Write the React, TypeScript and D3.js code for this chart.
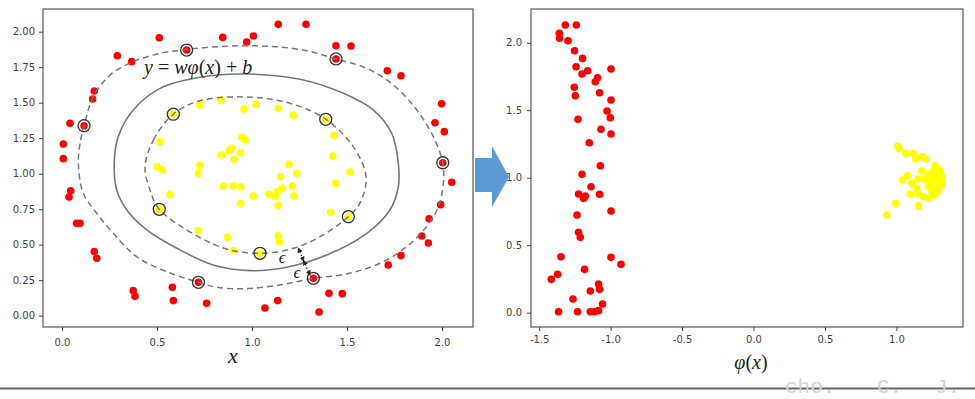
import React, { useEffect, useRef } from "react";
import * as d3 from "d3";

type Pt = [number, number];

// left panel: input space x
const redLeft: Pt[] = [
  [1.138, 2.052], [1.284, 2.052], [0.512, 1.958], [0.846, 1.96], [1.007, 1.97],
  [0.972, 1.927], [0.656, 1.871], [0.291, 1.831], [0.367, 1.789], [1.442, 1.901],
  [1.521, 1.899], [1.442, 1.808], [1.712, 1.725], [1.784, 1.69], [0.17, 1.582],
  [0.161, 1.526], [0.116, 1.338], [0.042, 1.355], [0.007, 1.209], [0.007, 1.106],
  [1.998, 1.493], [1.963, 1.359], [2.012, 1.296], [2.004, 1.077], [2.051, 0.94],
  [0.046, 0.88], [0.037, 0.836], [0.077, 0.651], [0.095, 0.651], [0.17, 0.451],
  [0.183, 0.404], [0.375, 0.176], [0.384, 0.137], [0.581, 0.2], [0.586, 0.106],
  [0.718, 0.235], [0.761, 0.087], [1.068, 0.054], [1.135, 0.106], [1.323, 0.263],
  [1.353, 0.026], [1.405, 0.158], [1.475, 0.155], [1.717, 0.357], [1.784, 0.423],
  [1.893, 0.561], [1.928, 0.512], [1.932, 0.683], [1.993, 0.782],
];

const yellowLeft: Pt[] = [
  [0.726, 1.484], [0.837, 1.519], [0.958, 1.456], [1.021, 1.489], [1.138, 1.461],
  [1.218, 1.411], [0.586, 1.419], [1.388, 1.383], [1.432, 1.27], [1.425, 1.125],
  [1.516, 1.012], [1.442, 0.93], [1.414, 0.728], [1.507, 0.697], [0.516, 1.225],
  [0.502, 1.049], [0.528, 1.026], [0.568, 0.855], [0.512, 0.749], [0.726, 1.059],
  [0.718, 1.003], [0.946, 1.256], [0.967, 1.237], [0.893, 1.179], [0.879, 1.162],
  [0.84, 1.132], [0.94, 1.148], [0.907, 1.101], [0.849, 0.913], [0.902, 0.913],
  [0.942, 0.908], [0.94, 0.791], [1.007, 0.843], [1.089, 0.857], [1.121, 0.838],
  [1.133, 0.873], [1.159, 0.897], [1.138, 0.777], [1.151, 0.979], [1.195, 1.066],
  [1.235, 1.003], [1.212, 0.913], [1.221, 0.843], [0.718, 0.599], [0.87, 0.552],
  [0.902, 0.458], [1.042, 0.439], [1.138, 0.563], [1.144, 0.521],
];

const supportVectors: Pt[] = [
  [0.656, 1.871], [1.442, 1.808], [0.116, 1.338], [2.004, 1.077], [0.718, 0.235],
  [1.323, 0.263], [0.586, 1.419], [1.388, 1.383], [0.512, 0.749], [1.507, 0.697],
  [1.042, 0.439],
];

// contour lines
const marginOuter: Pt[] = [
  [0.086, 1.073], [0.098, 1.237], [0.116, 1.338], [0.165, 1.542], [0.253, 1.695],
  [0.375, 1.789], [0.516, 1.848], [0.656, 1.875], [0.814, 1.894], [0.972, 1.901],
  [1.13, 1.894], [1.288, 1.866], [1.442, 1.808], [1.604, 1.742], [1.744, 1.625],
  [1.867, 1.449], [1.954, 1.261], [2.004, 1.077], [2.007, 0.932], [1.981, 0.768],
  [1.919, 0.627], [1.814, 0.486], [1.674, 0.369], [1.498, 0.294], [1.323, 0.263],
  [1.147, 0.216], [0.963, 0.19], [0.814, 0.2], [0.718, 0.235], [0.551, 0.31],
  [0.393, 0.415], [0.27, 0.58], [0.183, 0.721], [0.112, 0.862],
];

const boundary: Pt[] = [
  [0.972, 1.702], [1.253, 1.665], [1.481, 1.566], [1.638, 1.449], [1.735, 1.285],
  [1.77, 1.073], [1.77, 0.908], [1.726, 0.744], [1.604, 0.58], [1.393, 0.427],
  [1.183, 0.341], [0.989, 0.317], [0.796, 0.357], [0.604, 0.475], [0.446, 0.604],
  [0.341, 0.744], [0.288, 0.885], [0.275, 1.073], [0.296, 1.261], [0.375, 1.449],
  [0.516, 1.601], [0.726, 1.679],
];

const marginInner: Pt[] = [
  [0.437, 1.049], [0.481, 1.237], [0.586, 1.419], [0.726, 1.514], [0.972, 1.54],
  [1.2, 1.496], [1.389, 1.383], [1.533, 1.19], [1.6, 0.979], [1.568, 0.792],
  [1.507, 0.697], [1.358, 0.556], [1.218, 0.475], [1.042, 0.439], [0.884, 0.463],
  [0.718, 0.556], [0.512, 0.749], [0.463, 0.885],
];

// epsilon marker: inner margin -> boundary -> outer margin
const epsLine: Pt[] = [[1.244, 0.475], [1.272, 0.385], [1.305, 0.287]];

// right panel: feature space phi(x)
const redRight: Pt[] = [
  [-1.317, 2.131], [-1.24, 2.131], [-1.359, 2.07], [-1.357, 2.033], [-1.298, 2.015],
  [-1.252, 1.941], [-1.196, 1.884], [-1.242, 1.822], [-1.161, 1.793], [-1.2, 1.768],
  [-0.997, 1.805], [-1.091, 1.741], [-1.107, 1.711], [-1.254, 1.67], [-1.247, 1.607],
  [-1.077, 1.63], [-0.997, 1.576], [-1.025, 1.494], [-1.002, 1.444], [-1.228, 1.433],
  [-1.067, 1.359], [-0.997, 1.324], [-1.149, 1.259], [-1.072, 1.089], [-1.2, 1.025],
  [-1.137, 0.933], [-1.224, 0.879], [-1.177, 0.864], [-1.189, 0.847], [-1.077, 0.877],
  [-0.997, 0.753], [-1.235, 0.724], [-1.224, 0.596], [-1.212, 0.559], [-1.347, 0.415],
  [-0.997, 0.41], [-0.927, 0.358], [-1.182, 0.321], [-1.371, 0.284], [-1.415, 0.247],
  [-1.084, 0.213], [-1.077, 0.173], [-1.142, 0.161], [-1.263, 0.101], [-1.056, 0.064],
  [-1.364, 0.007], [-1.231, 0.007], [-1.142, 0.007], [-1.112, 0.007], [-1.084, 0.015],
];

const yellowRight: Pt[] = [
  [1.01, 1.235], [1.019, 1.218], [1.066, 1.181], [1.119, 1.181], [1.136, 1.139],
  [1.182, 1.156], [1.206, 1.139], [1.271, 1.089], [1.178, 1.05], [1.224, 1.025],
  [1.306, 1.044], [1.317, 1.007], [1.077, 1.015], [1.042, 0.983], [1.154, 0.99],
  [1.236, 0.97], [1.283, 0.97], [1.317, 0.959], [1.108, 0.959], [1.143, 0.921],
  [1.224, 0.933], [1.271, 0.921], [1.317, 0.946], [1.096, 0.879], [1.189, 0.859],
  [1.259, 0.872], [1.224, 0.847], [0.996, 0.81], [1.154, 0.793], [0.933, 0.724],
  [1.25, 1.0], [1.29, 1.01], [1.26, 1.05], [1.3, 0.99], [1.2, 0.99],
  [1.25, 0.9], [1.29, 0.9], [1.15, 0.88], [1.3, 1.06],
];

const leftXTicks = [0, 0.5, 1, 1.5, 2];
const leftYTicks = [0, 0.25, 0.5, 0.75, 1, 1.25, 1.5, 1.75, 2];
const rightXTicks = [-1.5, -1, -0.5, 0, 0.5, 1];
const rightYTicks = [0, 0.5, 1, 1.5, 2];

const W = 975;
const H = 399;
const LEFT = { x0: 43, x1: 473, y0: 9, y1: 327 };
const RIGHT = { x0: 531, x1: 963, y0: 9, y1: 327 };
const DOT_R = 3.8;
const TICK_FONT = "DejaVu Sans, sans-serif";
const MATH_FONT = "'Liberation Serif', 'DejaVu Serif', serif";

export default function App() {
  const gLX = useRef<SVGGElement>(null);
  const gLY = useRef<SVGGElement>(null);
  const gRX = useRef<SVGGElement>(null);
  const gRY = useRef<SVGGElement>(null);

  const xL = d3.scaleLinear().domain([-0.1, 2.163]).range([LEFT.x0, LEFT.x1]);
  const yL = d3.scaleLinear().domain([-0.08, 2.16]).range([LEFT.y1, LEFT.y0]);
  const xR = d3.scaleLinear().domain([-1.557, 1.466]).range([RIGHT.x0, RIGHT.x1]);
  const yR = d3.scaleLinear().domain([-0.106, 2.25]).range([RIGHT.y1, RIGHT.y0]);

  const contour = d3
    .line<Pt>()
    .x((d) => xL(d[0]))
    .y((d) => yL(d[1]))
    .curve(d3.curveCatmullRomClosed.alpha(0.5));

  useEffect(() => {
    const style = (g: d3.Selection<SVGGElement, unknown, null, undefined>) => {
      g.select(".domain").remove();
      g.selectAll(".tick line").attr("stroke", "#444");
      g.selectAll(".tick text")
        .attr("fill", "#444")
        .attr("font-family", TICK_FONT)
        .attr("font-size", 10);
    };
    d3.select(gLX.current!)
      .attr("transform", `translate(0,${LEFT.y1})`)
      .call(d3.axisBottom(xL).tickValues(leftXTicks).tickSize(4).tickPadding(7.5).tickFormat((d) => (+d).toFixed(1)))
      .call(style);
    d3.select(gLY.current!)
      .attr("transform", `translate(${LEFT.x0},0)`)
      .call(d3.axisLeft(yL).tickValues(leftYTicks).tickSize(4).tickPadding(4).tickFormat((d) => (+d).toFixed(2)))
      .call(style);
    d3.select(gRX.current!)
      .attr("transform", `translate(0,${RIGHT.y1})`)
      .call(d3.axisBottom(xR).tickValues(rightXTicks).tickSize(4).tickPadding(4.5).tickFormat((d) => (+d).toFixed(1)))
      .call(style);
    d3.select(gRY.current!)
      .attr("transform", `translate(${RIGHT.x0},0)`)
      .call(d3.axisLeft(yR).tickValues(rightYTicks).tickSize(4).tickPadding(5).tickFormat((d) => (+d).toFixed(1)))
      .call(style);
  }, []);

  const eqX = xL(0.432);
  const eqY = yL(1.7);

  return (
    <div style={{ position: "absolute", left: 0, top: 0 }}>
      <svg width={W} height={H} style={{ display: "block", background: "#fff" }}>
        <defs>
          <marker id="epsHead" viewBox="0 0 6 6" refX="5" refY="3" markerWidth="4" markerHeight="4" orient="auto-start-reverse">
            <path d="M0,0 L6,3 L0,6 Z" fill="#222" />
          </marker>
        </defs>

        {/* left panel */}
        <rect x={LEFT.x0} y={LEFT.y0} width={LEFT.x1 - LEFT.x0} height={LEFT.y1 - LEFT.y0} fill="none" stroke="#555" strokeWidth={1.2} />
        <g>
          {redLeft.map((d, i) => (
            <circle key={"rl" + i} cx={xL(d[0])} cy={yL(d[1])} r={DOT_R} fill="#ff0000" />
          ))}
          {yellowLeft.map((d, i) => (
            <circle key={"yl" + i} cx={xL(d[0])} cy={yL(d[1])} r={DOT_R} fill="#ffff00" />
          ))}
        </g>
        <path d={contour(marginOuter) ?? ""} fill="none" stroke="#777" strokeWidth={1.5} strokeDasharray="6,4" />
        <path d={contour(boundary) ?? ""} fill="none" stroke="#777" strokeWidth={1.6} />
        <path d={contour(marginInner) ?? ""} fill="none" stroke="#777" strokeWidth={1.5} strokeDasharray="6,4" />
        {supportVectors.map((d, i) => (
          <circle key={"sv" + i} cx={xL(d[0])} cy={yL(d[1])} r={6} fill="none" stroke="#333" strokeWidth={1.3} />
        ))}
        <line x1={xL(epsLine[0][0])} y1={yL(epsLine[0][1])} x2={xL(epsLine[1][0])} y2={yL(epsLine[1][1])}
          stroke="#222" strokeWidth={1.3} strokeDasharray="1.5,2" markerStart="url(#epsHead)" markerEnd="url(#epsHead)" />
        <line x1={xL(epsLine[1][0])} y1={yL(epsLine[1][1])} x2={xL(epsLine[2][0])} y2={yL(epsLine[2][1])}
          stroke="#222" strokeWidth={1.3} strokeDasharray="1.5,2" markerStart="url(#epsHead)" markerEnd="url(#epsHead)" />
        <text x={xL(1.159)} y={yL(0.405) + 5} fontFamily={MATH_FONT} fontStyle="italic" fontSize={17} fill="#222" textAnchor="middle">ϵ</text>
        <text x={xL(1.237)} y={yL(0.299) + 5} fontFamily={MATH_FONT} fontStyle="italic" fontSize={17} fill="#222" textAnchor="middle">ϵ</text>
        <text x={eqX} y={eqY} fontFamily={MATH_FONT} fontSize={20} fill="#222">
          <tspan fontStyle="italic">y</tspan>
          <tspan> = </tspan>
          <tspan fontStyle="italic">wφ</tspan>
          <tspan>(</tspan>
          <tspan fontStyle="italic">x</tspan>
          <tspan>) + </tspan>
          <tspan fontStyle="italic">b</tspan>
        </text>
        <g ref={gLX} />
        <g ref={gLY} />
        <text x={233} y={363} fontFamily={MATH_FONT} fontStyle="italic" fontSize={22} fill="#222" textAnchor="middle">x</text>

        {/* arrow between panels */}
        <path d="M475,158 L492,158 L492,146 L509,177 L492,207 L492,192 L475,192 Z" fill="#5b9bd5" />

        {/* right panel */}
        <rect x={RIGHT.x0} y={RIGHT.y0} width={RIGHT.x1 - RIGHT.x0} height={RIGHT.y1 - RIGHT.y0} fill="none" stroke="#555" strokeWidth={1.2} />
        {redRight.map((d, i) => (
          <circle key={"rr" + i} cx={xR(d[0])} cy={yR(d[1])} r={DOT_R} fill="#ff0000" />
        ))}
        {yellowRight.map((d, i) => (
          <circle key={"yr" + i} cx={xR(d[0])} cy={yR(d[1])} r={DOT_R} fill="#ffff00" />
        ))}
        <g ref={gRX} />
        <g ref={gRY} />
        <text x={751} y={369} fontFamily={MATH_FONT} fontSize={20} fill="#222" textAnchor="middle">
          <tspan fontStyle="italic">φ</tspan>
          <tspan>(</tspan>
          <tspan fontStyle="italic">x</tspan>
          <tspan>)</tspan>
        </text>

        {/* page rule and watermark */}
        <rect x={0} y={387.5} width={W} height={2} fill="#666" />
        <g fontFamily="'Liberation Mono', monospace" fontSize={21} fill="#d4d4d4">
          <text x={785} y={393}>cho.</text>
          <text x={877} y={393}>C.</text>
          <text x={935} y={393}>J.</text>
        </g>
      </svg>
    </div>
  );
}
